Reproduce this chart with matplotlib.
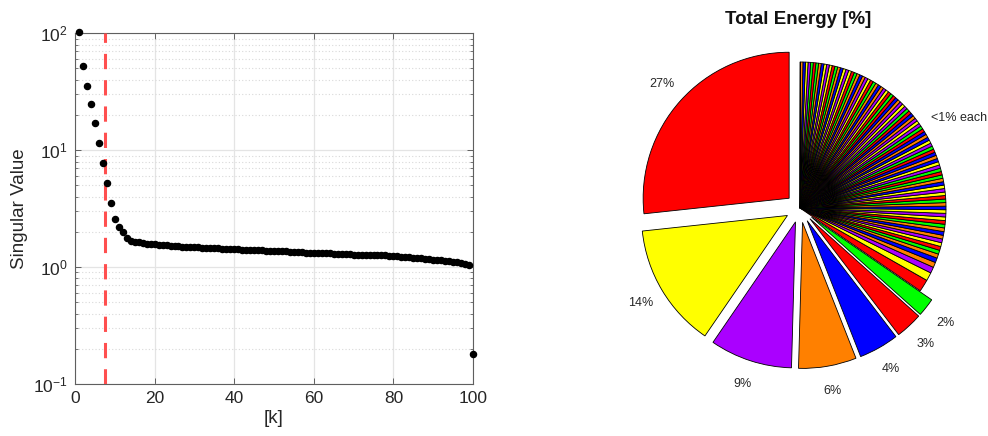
import numpy as np
import matplotlib
matplotlib.use("Agg")
import matplotlib.pyplot as plt
from matplotlib.ticker import FixedLocator, NullLocator, LogLocator, NullFormatter

plt.rcParams['font.family'] = ['Liberation Sans', 'DejaVu Sans']
plt.rcParams['axes.unicode_minus'] = False

# ---- data -------------------------------------------------------------
k_index = list(range(1, 101))
singular_values = [
    103.0, 53.0, 35.2, 24.7, 17.1, 11.5, 7.8,
    5.2, 3.55, 2.6, 2.2, 1.98, 1.76,
    1.68, 1.65, 1.63, 1.61, 1.59, 1.58, 1.57,
    1.56, 1.55, 1.54, 1.53, 1.52, 1.51, 1.50, 1.50, 1.49, 1.48,
    1.48, 1.47, 1.46, 1.46, 1.45, 1.45, 1.44, 1.44, 1.43, 1.42,
    1.42, 1.41, 1.41, 1.40, 1.40, 1.39, 1.39, 1.38, 1.38, 1.37,
    1.37, 1.36, 1.36, 1.35, 1.35, 1.34, 1.34, 1.33, 1.33, 1.32,
    1.32, 1.31, 1.31, 1.31, 1.30, 1.30, 1.29, 1.29, 1.29, 1.28,
    1.28, 1.28, 1.27, 1.27, 1.27, 1.26, 1.26, 1.26, 1.25, 1.25,
    1.24, 1.23, 1.22, 1.21, 1.20, 1.20, 1.19, 1.18, 1.17, 1.16,
    1.15, 1.14, 1.13, 1.12, 1.11, 1.10, 1.09, 1.07, 1.05,
    0.18,
]
cutoff_k = 7.5
n_labelled = 7          # modes that get their own percentage label
others_label_k = 48     # mode carrying the "<1% each" label
others_text = '<1% each'

x_ticks = [0, 20, 40, 60, 80, 100]
y_ticks = [0.1, 1, 10, 100]

# ---- figure -----------------------------------------------------------
W, H = 988, 436
fig = plt.figure(figsize=(W / 100, H / 100), dpi=100)

axis_grey = '#5f5f5f'
text_grey = '#262626'

# singular value spectrum
ax = fig.add_axes([75 / W, 1 - 384 / H, 398 / W, (384 - 33.3) / H])
ax.set_yscale('log')
ax.set_xlim(0, 100)
ax.set_ylim(0.1, 100)
ax.plot(k_index, singular_values, 'o', color='k', ms=4.4, mec='k',
        clip_on=False, zorder=4)
ax.axvline(cutoff_k, color='#ff4f4f', lw=2.2, dashes=(5, 3.6), zorder=3)

ax.xaxis.set_major_locator(FixedLocator(x_ticks))
ax.xaxis.set_minor_locator(NullLocator())
ax.yaxis.set_major_locator(FixedLocator(y_ticks))
ax.yaxis.set_minor_locator(LogLocator(base=10, subs=np.arange(2, 10)))
ax.yaxis.set_minor_formatter(NullFormatter())

ax.grid(True, which='major', color='#e4e4e4', lw=0.9, ls='-')
ax.grid(True, which='minor', axis='y', color='#d9d9d9', lw=0.8, ls=(0, (1, 2)))
ax.set_axisbelow(True)

for s in ax.spines.values():
    s.set_color(axis_grey)
    s.set_linewidth(0.8)
ax.tick_params(which='both', direction='in', top=True, right=True,
               color=axis_grey, labelcolor=text_grey)
ax.tick_params(which='major', length=4.5, width=0.7, labelsize=12.5, pad=5)
ax.tick_params(which='minor', length=2.5, width=0.6)

ax.set_xlabel('[k]', fontsize=13.5, color=text_grey, labelpad=3)
ax.set_ylabel('Singular Value', fontsize=13.5, color=text_grey, labelpad=4)

# energy share pie
values = np.asarray(singular_values)
energy = values / values.sum()

labels = [''] * len(energy)
for i in range(n_labelled):
    labels[i] = f'{round(100 * energy[i]):d}%'
labels[others_label_k - 1] = others_text

explode = [0.1] * n_labelled + [0.0] * (len(energy) - n_labelled)

# MATLAB-style "prism" colormap indexed by scaled colour data
prism = ['#ff0000', '#ff8000', '#ffff00', '#00ff00', '#0000ff', '#aa00ff']
cmap_len = 256
n = len(energy)
colors = []
for i in range(n):
    idx = min(int(np.floor(i / (n - 1) * cmap_len)), cmap_len - 1)
    colors.append(prism[idx % len(prism)])

pcx, pcy, R = 800, 208, 146
pax = fig.add_axes([620 / W, 0, (W - 620) / W, 1])
wedges, texts = pax.pie(
    energy, explode=explode, labels=labels, colors=colors,
    startangle=90, counterclock=True, labeldistance=1.17,
    wedgeprops=dict(edgecolor='#000000', linewidth=0.6),
    textprops=dict(fontsize=9, color=text_grey),
)
for t in texts:
    t.set_ha('center')
    t.set_va('center')
tx, ty = texts[others_label_k - 1].get_position()
texts[others_label_k - 1].set_position((tx * 1.25 / 1.17, ty * 1.25 / 1.17))

pax.set_aspect('auto')
pax.set_xlim((620 - pcx) / R, (W - pcx) / R)
pax.set_ylim((pcy - H) / R, pcy / R)
pax.axis('off')

fig.text(798 / W, 1 - 20 / H, 'Total Energy [%]', fontsize=13.5,
         fontweight='bold', ha='center', va='center', color='#111111')

fig.savefig('out.png', dpi=100)
